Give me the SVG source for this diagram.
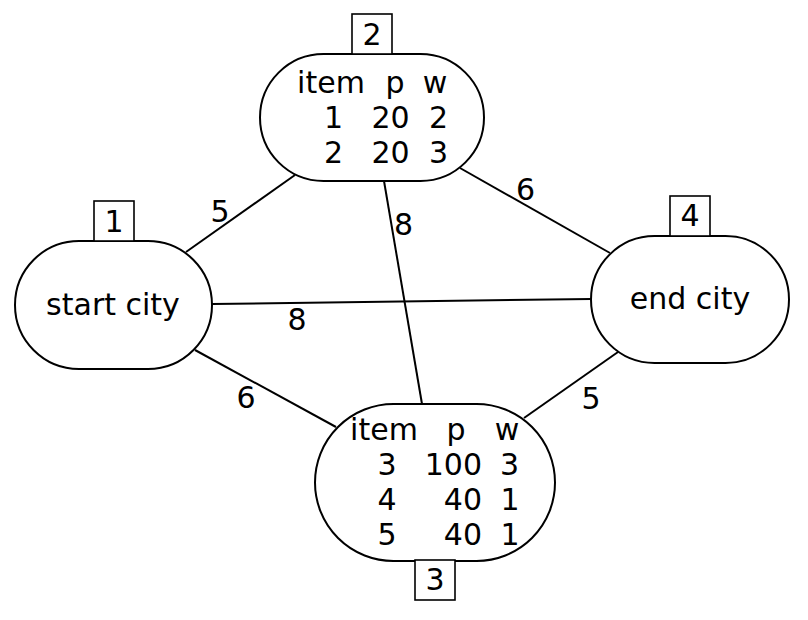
<svg xmlns="http://www.w3.org/2000/svg" width="808" height="620" viewBox="0 0 808 620">
<style>
.n{fill:#fff;stroke:#000;stroke-width:2}
.b{fill:#fff;stroke:#000;stroke-width:1.6}
.e{stroke:#000;stroke-width:2;fill:none}
text{font-family:"DejaVu Sans","Noto Sans",sans-serif;font-size:30px;fill:#000;text-anchor:middle}
</style>
<rect width="808" height="620" fill="#fff"/>
<g id="connectors">
<line class="e" x1="186" y1="252" x2="295" y2="175"/>
<line class="e" x1="384" y1="181" x2="422" y2="404"/>
<line class="e" x1="212" y1="304" x2="591" y2="299"/>
<line class="e" x1="195" y1="350" x2="336" y2="427"/>
<line class="e" x1="460" y1="168" x2="610" y2="253"/>
<line class="e" x1="524" y1="418" x2="618" y2="352"/>
<text x="220" y="222">5</text>
<text x="403.5" y="235">8</text>
<text x="297" y="330">8</text>
<text x="246" y="408">6</text>
<text x="525.5" y="200">6</text>
<text x="591" y="409">5</text>
</g>
<g id="node1">
<rect class="n" x="15" y="241" width="197" height="128" rx="64" ry="64"/>
<text x="113" y="315">start city</text>
<rect class="b" x="94" y="201" width="40" height="40"/>
<text x="114" y="232">1</text>
</g>
<g id="node2">
<rect class="n" x="260" y="54" width="224" height="127" rx="63.5" ry="63.5"/>
<text x="331" y="93">item</text>
<text x="395" y="93">p</text>
<text x="435" y="93">w</text>
<text x="333.5" y="128">1</text>
<text x="390.5" y="128">20</text>
<text x="438.5" y="128">2</text>
<text x="333.5" y="163">2</text>
<text x="390.5" y="163">20</text>
<text x="438.5" y="163">3</text>
<rect class="b" x="352" y="14" width="40" height="40"/>
<text x="372" y="45">2</text>
</g>
<g id="node3">
<rect class="n" x="315" y="404" width="240" height="157" rx="78.5" ry="78.5"/>
<text x="384" y="440">item</text>
<text x="456" y="440">p</text>
<text x="507" y="440">w</text>
<text x="387" y="475">3</text>
<text x="482" y="475" style="text-anchor:end">100</text>
<text x="509.5" y="475">3</text>
<text x="387" y="510">4</text>
<text x="482" y="510" style="text-anchor:end">40</text>
<text x="510" y="510">1</text>
<text x="387" y="545">5</text>
<text x="482" y="545" style="text-anchor:end">40</text>
<text x="510" y="545">1</text>
<rect class="b" x="415" y="560" width="40" height="40"/>
<text x="435" y="590">3</text>
</g>
<g id="node4">
<rect class="n" x="591" y="236" width="198" height="127" rx="63.5" ry="63.5"/>
<text x="690" y="309">end city</text>
<rect class="b" x="670" y="196" width="40" height="40"/>
<text x="690" y="226">4</text>
</g>
</svg>
